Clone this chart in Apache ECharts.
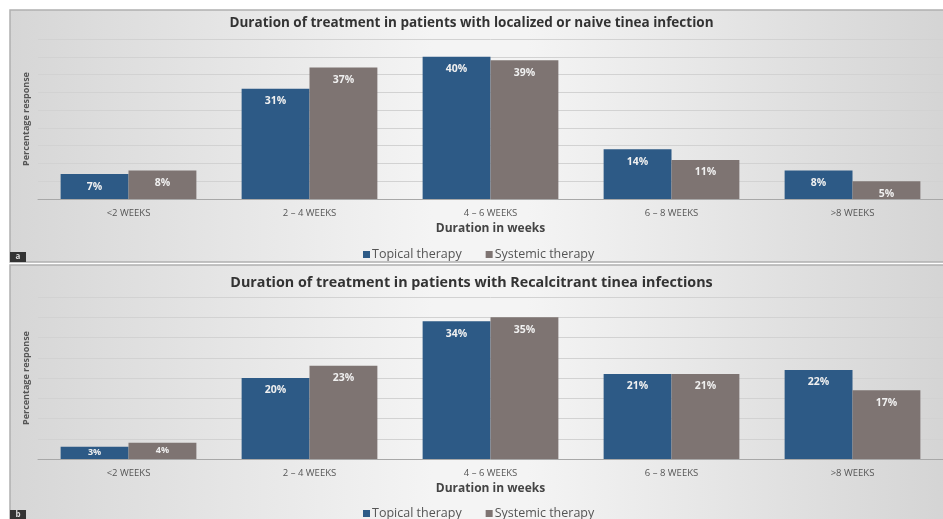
<!DOCTYPE html>
<html>
<head>
<meta charset="utf-8">
<script src="https://cdn.jsdelivr.net/npm/echarts@6/dist/echarts.min.js"></script>
<style>
html,body{margin:0;padding:0;background:#fff;}
#chart{width:943px;height:519px;}
</style>
</head>
<body>
<div id="chart"></div>
<script>
// categories and values
var categories = ['<2 WEEKS', '2 – 4 WEEKS', '4 – 6 WEEKS', '6 – 8 WEEKS', '>8 WEEKS'];
var topicalNaive = [7, 31, 40, 14, 8];
var systemicNaive = [8, 37, 39, 11, 5];
var topicalRecalc = [3, 20, 34, 21, 22];
var systemicRecalc = [4, 23, 35, 21, 17];
var seriesNames = ['Topical therapy', 'Systemic therapy'];

var BLUE = '#2d5a86';
var GRAY = '#7e7472';
var FONT = 'Open Sans';

function panelBg(y, h){
	return {
		type: 'rect', silent: true, z: -10,
		shape: {x: 10, y: y, width: 940, height: h},
		style: {
			fill: new echarts.graphic.LinearGradient(0, 0, 1, 0, [
				{offset: 0, color: '#d6d6d6'},
				{offset: 0.45, color: '#f4f4f4'},
				{offset: 0.55, color: '#f4f4f4'},
				{offset: 1, color: '#d4d4d4'}
			]),
			stroke: '#b0b0b0', lineWidth: 1.5
		}
	};
}
function tag(y, txt){
	return {
		type: 'group', z: 10, children: [
			{type: 'rect', shape: {x: 10, y: y, width: 16, height: 10}, style: {fill: '#333'}},
			{type: 'text', x: 18, y: y + 5, style: {text: txt, fill: '#ddd', font: 'bold 8px ' + FONT, align: 'center', verticalAlign: 'middle'}}
		]
	};
}
function xAx(idx){
	return {
		type: 'category', gridIndex: idx, data: categories,
		name: 'Duration in weeks', nameLocation: 'middle', nameGap: 24,
		nameTextStyle: {fontFamily: FONT, fontWeight: 'bold', fontSize: 12, color: '#444'},
		axisLine: {lineStyle: {color: '#a8a8a8', width: 1}},
		axisTick: {show: false},
		axisLabel: {fontFamily: FONT, fontSize: 9.5, color: '#555', margin: 9}
	};
}
function yAx(idx, max){
	return {
		type: 'value', gridIndex: idx, min: 0, max: max, interval: 5,
		name: 'Percentage response', nameLocation: 'middle', nameGap: 7,
		nameTextStyle: {fontFamily: FONT, fontSize: 9, fontWeight: 'bold', color: '#555'},
		axisLine: {show: false}, axisTick: {show: false}, axisLabel: {show: false},
		splitLine: {lineStyle: {color: '#d2d2d2', width: 1}}
	};
}
function bar(name, data, idx, color){
	// tiny bars: centre the label so it stays inside
	var items = data.map(function(v){
		return v < 5 ? {value: v, label: {position: 'inside', fontSize: 9}} : v;
	});
	return {
		name: name, type: 'bar', xAxisIndex: idx, yAxisIndex: idx, data: items,
		barGap: '0%', barCategoryGap: '25%',
		itemStyle: {color: color},
		label: {
			show: true, position: 'insideTop', distance: 7,
			formatter: '{c}%', color: '#f0f0f0',
			fontFamily: FONT, fontSize: 10.5, fontWeight: 'bold'
		}
	};
}
function legend(top){
	return {
		data: seriesNames, top: top, left: 'center', itemWidth: 7, itemHeight: 7, itemGap: 24,
		icon: 'rect', textStyle: {fontFamily: FONT, fontSize: 12.5, color: '#555', padding: [0, 0, 0, -3]}
	};
}

var option = {
	backgroundColor: '#fff',
	animation: false,
	color: [BLUE, GRAY],
	title: [
		{text: 'Duration of treatment in patients with localized or naive tinea infection', left: 'center', top: 11,
			textStyle: {fontFamily: FONT, fontSize: 13.5, fontWeight: 'bold', color: '#333'}},
		{text: 'Duration of treatment in patients with Recalcitrant tinea infections', left: 'center', top: 271,
			textStyle: {fontFamily: FONT, fontSize: 14.3, fontWeight: 'bold', color: '#333'}}
	],
	legend: [
		Object.assign(legend(243), {left: 358}),
		Object.assign(legend(502), {left: 358})
	],
	grid: [
		{left: 38, width: 910, top: 39, height: 160},
		{left: 38, width: 910, top: 297, height: 162}
	],
	xAxis: [xAx(0), xAx(1)],
	yAxis: [yAx(0, 45), yAx(1, 40)],
	series: [
		bar(seriesNames[0], topicalNaive, 0, BLUE),
		bar(seriesNames[1], systemicNaive, 0, GRAY),
		bar(seriesNames[0], topicalRecalc, 1, BLUE),
		bar(seriesNames[1], systemicRecalc, 1, GRAY)
	],
	graphic: [
		panelBg(10, 252),
		panelBg(265, 260),
		tag(252, 'a'),
		tag(510, 'b')
	]
};

var myChart = echarts.init(document.getElementById('chart'));
myChart.setOption(option);
</script>
</body>
</html>
